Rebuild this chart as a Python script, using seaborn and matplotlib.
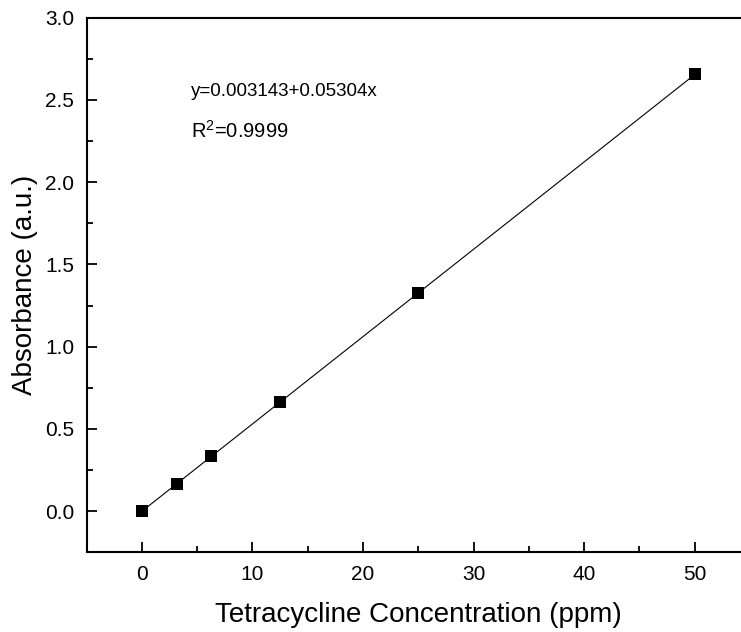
import matplotlib
matplotlib.use("Agg")
import matplotlib.pyplot as plt
from matplotlib.ticker import MultipleLocator, FormatStrFormatter
import seaborn as sns
import pandas as pd

concentration = [0, 3.125, 6.25, 12.5, 25, 50]
absorbance = [0.0, 0.166, 0.333, 0.664, 1.324, 2.655]
equation_text = "y=0.003143+0.05304x"
r2_text = "R$^2$=0.9999"

df = pd.DataFrame({"Concentration": concentration, "Absorbance": absorbance})

sns.set_style("ticks")
plt.rcParams['font.family'] = ['Liberation Sans', 'DejaVu Sans']
plt.rcParams['mathtext.fontset'] = 'custom'
plt.rcParams['mathtext.rm'] = 'Liberation Sans'
plt.rcParams['text.color'] = 'black'
plt.rcParams['axes.labelcolor'] = 'black'

fig = plt.figure(figsize=(7.41, 6.32), dpi=100)
ax = fig.add_axes([0.117, 0.126, 1.012 - 0.117, 0.972 - 0.126])

sns.regplot(data=df, x="Concentration", y="Absorbance", ax=ax, ci=None,
            truncate=True, marker="s",
            scatter_kws={"s": 72, "color": "black", "alpha": 1, "zorder": 3, "linewidths": 0},
            line_kws={"color": "black", "linewidth": 0.8, "zorder": 2})

ax.set_xlim(-5, 55)
ax.set_ylim(-0.25, 3.0)
ax.xaxis.set_major_locator(MultipleLocator(10))
ax.xaxis.set_minor_locator(MultipleLocator(5))
ax.yaxis.set_major_locator(MultipleLocator(0.5))
ax.yaxis.set_minor_locator(MultipleLocator(0.25))
ax.yaxis.set_major_formatter(FormatStrFormatter('%.1f'))

ax.tick_params(which="both", direction="in", width=1.3, colors="black", labelsize=15, top=False, right=False)
ax.tick_params(which="major", length=7, pad=9)
ax.tick_params(which="minor", length=4)

for s in ["left", "bottom", "top", "right"]:
    ax.spines[s].set_visible(True)
    ax.spines[s].set_linewidth(1.5)
    ax.spines[s].set_color("black")

ax.set_xlabel("Tetracycline Concentration (ppm)", fontsize=20, labelpad=13, color="black")
ax.set_ylabel("Absorbance (a.u.)", fontsize=20, labelpad=5, color="black")

ax.text(4.4, 2.55, equation_text, fontsize=13.5, va="center", ha="left", color="black")
ax.text(4.4, 2.31, r2_text, fontsize=14.5, va="center", ha="left", color="black")

fig.savefig("out.png", dpi=100)
